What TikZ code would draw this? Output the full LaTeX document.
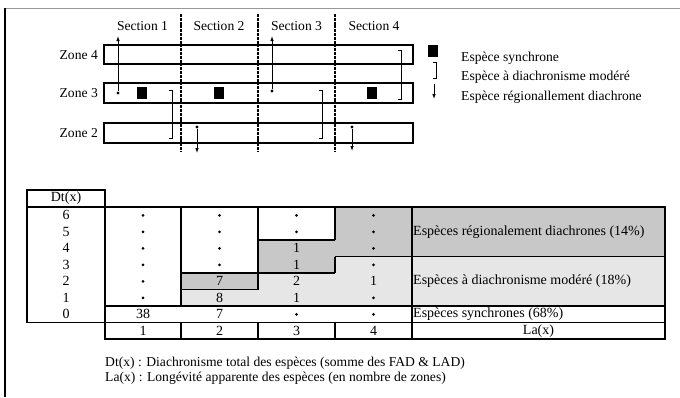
\documentclass[tikz,border=0pt]{standalone}
\usepackage{fontspec}
\setmainfont{Liberation Serif}
\usetikzlibrary{arrows.meta}
\definecolor{darkg}{RGB}{200,200,200}
\definecolor{lightg}{RGB}{230,230,230}
\begin{document}
\begin{tikzpicture}[x=1pt,y=-1pt,
  txt/.style={inner sep=0pt, font=\fontsize{13.6}{15}\selectfont},
  ttxt/.style={inner sep=0pt, font=\fontsize{14}{16}\selectfont},
  zonebox/.style={draw, line width=1.6pt, minimum width=309pt, inner sep=0pt},
  secline/.style={line width=1.6pt, dash pattern=on 3pt off 0.8pt},
  tline/.style={line width=1.6pt},
  sq/.style={fill=black, minimum width=10pt, minimum height=12pt, inner sep=0pt},
  startdot/.style={circle, fill=black, minimum size=3.4pt, inner sep=0pt},
  celldot/.style={circle, fill=black, minimum size=3pt, inner sep=0pt},
  arr/.style={line width=0.9pt, -{Latex[length=5pt,width=3.6pt]}},
  brk/.style={line width=0.9pt},
]
\useasboundingbox (0,0) rectangle (680,397);
% frame
\draw[black!40, line width=1pt] (5,8) -- (680,8);
\draw[line width=1.5pt] (5,8) -- (5,397);

% ---------- upper diagram ----------
\node[zonebox, minimum height=19pt] (z4) at (258.5,54.5) {};
\node[zonebox, minimum height=20pt] (z3) at (258.5,93) {};
\node[zonebox, minimum height=20pt] (z2) at (258.5,133) {};
\node[txt, anchor=east] (lz4) at (98,55) {Zone 4};
\node[txt, anchor=east] (lz3) at (98,93) {Zone 3};
\node[txt, anchor=east] (lz2) at (98,133) {Zone 2};

\foreach \x in {181,258,335}{
  \draw[secline] (\x,14) -- (\x,151);
}
\node[txt] (s1) at (142.5,26) {Section 1};
\node[txt] (s2) at (219,26) {Section 2};
\node[txt] (s3) at (296.5,26) {Section 3};
\node[txt] (s4) at (374,26) {Section 4};

% synchronous species
\node[sq] (q1) at (142,93) {};
\node[sq] (q2) at (219,93) {};
\node[sq] (q3) at (372,93) {};

% moderate diachronism brackets
\draw[brk] (168.5,90) -- (172,90) -- (172,138) -- (168.5,138);
\draw[brk] (318.5,90) -- (322,90) -- (322,138) -- (318.5,138);
\draw[brk] (397.5,50) -- (401,50) -- (401,99) -- (397.5,99);

% regional diachrony arrows
\node[startdot] (a1) at (118,93) {};
\coordinate (a1t) at (118,36);
\draw[arr] (a1) -- (a1t);
\node[startdot] (a2) at (272,91) {};
\coordinate (a2t) at (272,36);
\draw[arr] (a2) -- (a2t);
\node[startdot] (a3) at (197,127) {};
\coordinate (a3t) at (197,153);
\draw[arr] (a3) -- (a3t);
\node[startdot] (a4) at (352,127) {};
\coordinate (a4t) at (352,151);
\draw[arr] (a4) -- (a4t);

% legend
\node[sq] (lsq) at (433,51) {};
\draw[brk] (432.5,62) -- (436,62) -- (436,78) -- (432.5,78);
\coordinate (la) at (434,84);
\coordinate (lat) at (434,99);
\draw[arr] (la) -- (lat);
\node[txt, anchor=west] (l1) at (461,58) {Espèce synchrone};
\node[txt, anchor=west] (l2) at (461,77) {Espèce à diachronisme modéré};
\node[txt, anchor=west] (l3) at (461,97) {Espèce régionallement diachrone};

% ---------- table ----------
% fills
\fill[darkg] (335,207) rectangle (665,256.5);
\fill[darkg] (258,240) rectangle (335,273);
\fill[darkg] (181,273) rectangle (258,289.5);
\fill[lightg] (181,289.5) rectangle (258,306);
\fill[lightg] (258,273) rectangle (335,306);
\fill[lightg] (335,256.5) rectangle (665,306);

% lines
\draw[tline] (27,190) rectangle (105,207);
\draw[tline] (27,207) rectangle (105,322.5);
\draw[tline] (105,207) rectangle (665,322.5);
\draw[tline] (105,322.5) rectangle (665,339);
\foreach \x in {181,258,335,412}{
  \draw[tline] (\x,322.5) -- (\x,339);
}
\draw[tline] (181,207) -- (181,306);
\draw[tline] (258,207) -- (258,289.5);
\draw[tline] (335,207) -- (335,240);
\draw[tline] (335,256.5) -- (335,273);
\draw[tline] (412,207) -- (412,322.5);
\draw[tline] (258,240) -- (335,240);
\draw[tline] (335,256.5) -- (665,256.5);
\draw[tline] (181,273) -- (335,273);
\draw[tline] (181,289.5) -- (258,289.5);
\draw[tline] (105,306) -- (665,306);

% header
\node[ttxt] (dth) at (66,198.5) {Dt(x)};
% Dt values
\foreach \r in {0,...,6}{
  \node[ttxt] (dt\r) at (66,{207+(6-\r+0.5)*16.5}) {\r};
}
% column 1
\foreach \r in {1,...,6}{
  \node[celldot] (c1d\r) at (143,{207+(6-\r+0.5)*16.5}) {};
}
\node[ttxt] (c1v0) at (143,314.25) {38};
% column 2
\foreach \r in {3,...,6}{
  \node[celldot] (c2d\r) at (219.5,{207+(6-\r+0.5)*16.5}) {};
}
\node[ttxt] (c2v2) at (219.5,281.25) {7};
\node[ttxt] (c2v1) at (219.5,297.75) {8};
\node[ttxt] (c2v0) at (219.5,314.25) {7};
% column 3
\node[celldot] (c3d6) at (296.5,215.25) {};
\node[celldot] (c3d5) at (296.5,231.75) {};
\node[ttxt] (c3v4) at (296.5,248.25) {1};
\node[ttxt] (c3v3) at (296.5,264.75) {1};
\node[ttxt] (c3v2) at (296.5,281.25) {2};
\node[ttxt] (c3v1) at (296.5,297.75) {1};
\node[celldot] (c3d0) at (296.5,314.25) {};
% column 4
\foreach \r in {0,1,3,4,5,6}{
  \node[celldot] (c4d\r) at (373.5,{207+(6-\r+0.5)*16.5}) {};
}
\node[ttxt] (c4v2) at (373.5,281.25) {1};
% La row
\node[ttxt] (la1) at (143,330.75) {1};
\node[ttxt] (la2) at (219.5,330.75) {2};
\node[ttxt] (la3) at (296.5,330.75) {3};
\node[ttxt] (la4) at (373.5,330.75) {4};
\node[ttxt] (lax) at (538.5,330.75) {La(x)};
% labels
\node[ttxt, anchor=west] (g1) at (413,231.75) {Espèces régionalement diachrones (14\%)};
\node[ttxt, anchor=west] (g2) at (413,281.25) {Espèces à diachronisme modéré (18\%)};
\node[ttxt, anchor=west] (g3) at (413,314.25) {Espèces synchrones (68\%)};

% footnotes
\node[txt, anchor=west] (f1) at (105,363) {Dt(x) : Diachronisme total des espèces (somme des FAD \& LAD)};
\node[txt, anchor=west] (f2) at (105,378) {La(x) : Longévité apparente des espèces (en nombre de zones)};
\end{tikzpicture}
\end{document}
